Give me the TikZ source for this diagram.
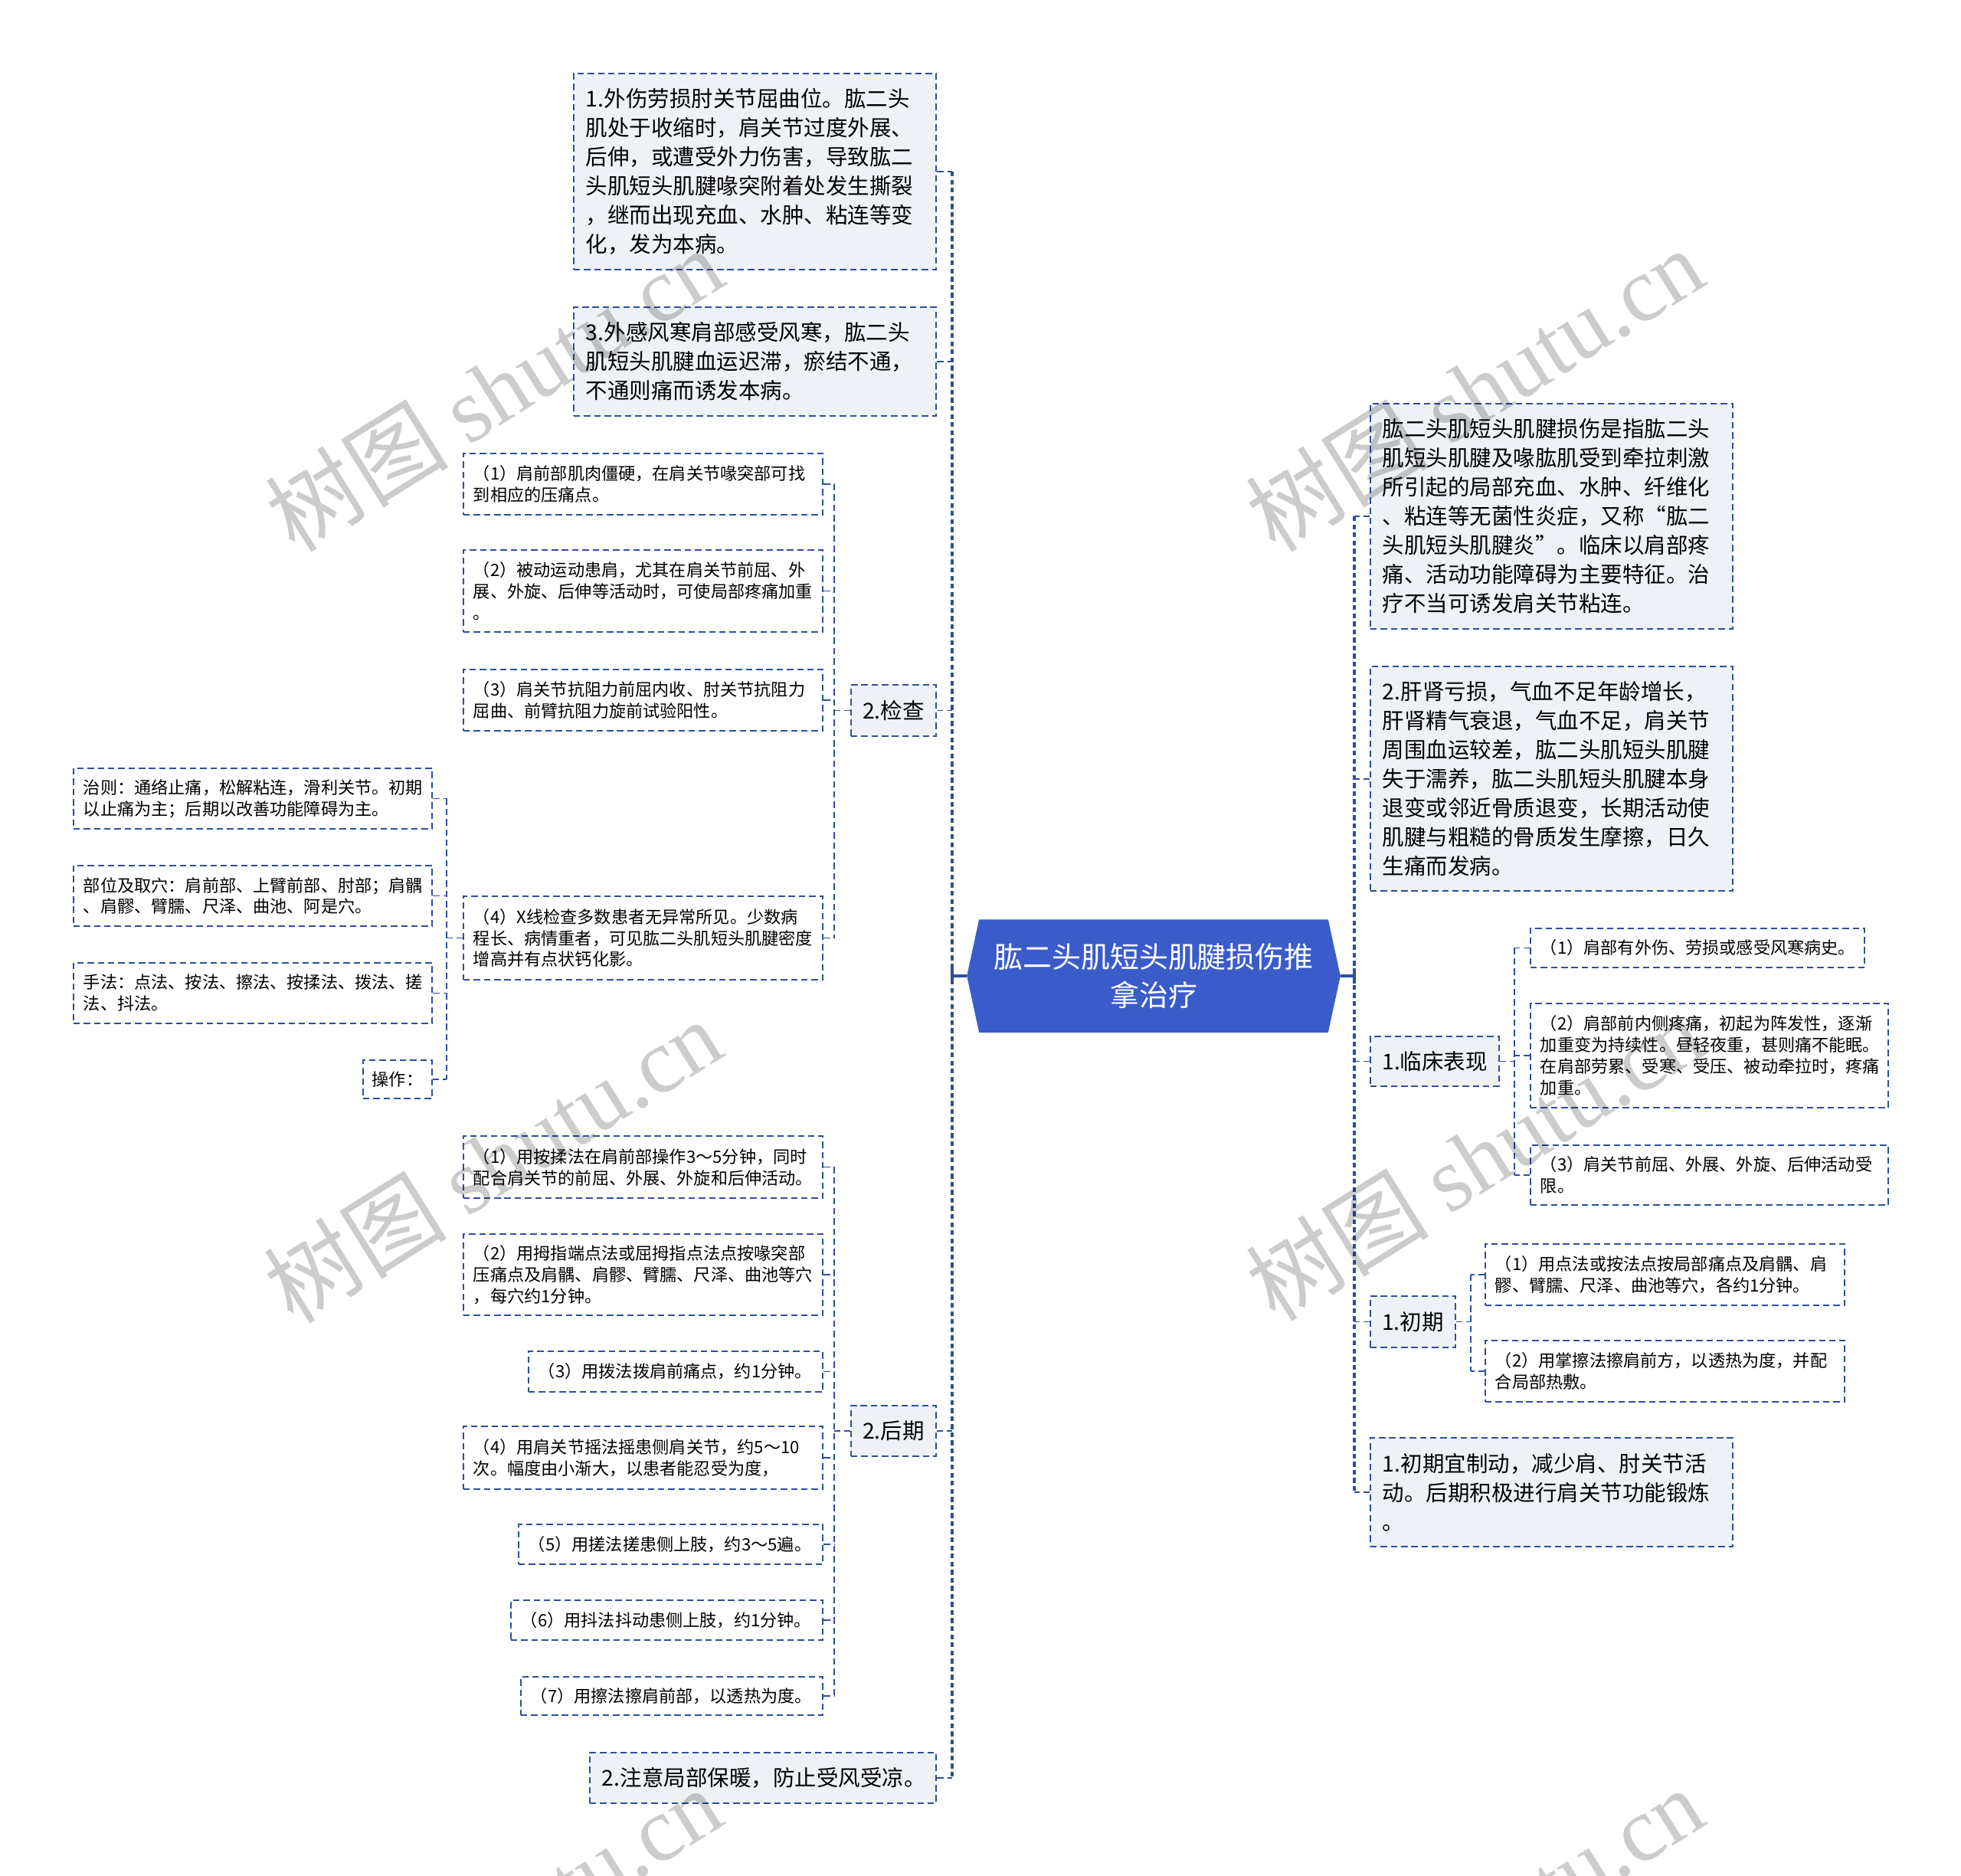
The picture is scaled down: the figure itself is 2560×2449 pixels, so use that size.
\documentclass[tikz,border=0pt]{standalone}
\usepackage{fontspec}
\setmainfont{Noto Sans CJK SC}
\newfontfamily\wmlatin{Liberation Serif}
\usetikzlibrary{backgrounds}

\definecolor{mapblue}{HTML}{2F4E9C}
\definecolor{boxfill}{HTML}{EEF1F6}
\definecolor{rootfill}{HTML}{3A5CCB}

\newcommand{\topicfont}{\fontsize{8.1pt}{10.8pt}\selectfont}
\newcommand{\leaffont}{\fontsize{6.3pt}{7.95pt}\selectfont}
\newcommand{\rootfont}{\fontsize{10.8pt}{14.3pt}\selectfont}
\newcommand{\wmarkfont}{\fontsize{34pt}{34pt}\selectfont}

\begin{document}
\begin{tikzpicture}[x=0.01cm, y=-0.01cm,
    topic/.style={draw=mapblue, fill=boxfill, line width=0.55pt, dash pattern=on 2.4pt off 1.4pt,
                  anchor=north west, inner xsep=0.16cm, inner ysep=0pt, align=left, font=\topicfont},
    tag/.style={topic, align=center, inner xsep=0pt},
    leaf/.style={draw=mapblue, fill=white, line width=0.55pt, dash pattern=on 2.4pt off 1.4pt,
                 anchor=north west, inner xsep=0.13cm, inner ysep=0pt, align=left, font=\leaffont},
    link/.style={draw=mapblue, line width=0.55pt, dash pattern=on 2.4pt off 1.4pt},
    trunk/.style={draw=mapblue, line width=0.9pt, dash pattern=on 1.8pt off 1.2pt},
    hub/.style={draw=mapblue, line width=1.1pt},
    wm/.style={text=black, opacity=0.2, rotate=32, font=\wmarkfont, inner sep=0pt}]

    % page
    \begin{pgfonlayer}{background}
        \fill[white] (0,0) rectangle (2560,2449);
    \end{pgfonlayer}
    \useasboundingbox (0,0) rectangle (2560,2449);

    % Central topic
    \node[text=white, align=center, font=\rootfont, minimum width=4.54cm, minimum height=1.46cm, inner sep=0pt]
        (root) at (1506,1274) {肱二头肌短头肌腱损伤推\\拿治疗};
    \begin{pgfonlayer}{background}
        \fill[rootfill] (root.north west) -- (root.north east) -- ([xshift=0.16cm]root.east)
            -- (root.south east) -- (root.south west) -- ([xshift=-0.16cm]root.west) -- cycle;
    \end{pgfonlayer}

    % Left branch
    \node[topic, text width=4.41cm, minimum height=2.56cm] (b1) at (748,95)
        {1.外伤劳损肘关节屈曲位。肱二头\\肌处于收缩时，肩关节过度外展、\\后伸，或遭受外力伤害，导致肱二\\头肌短头肌腱喙突附着处发生撕裂\\，继而出现充血、水肿、粘连等变\\化，发为本病。};
    \node[topic, text width=4.41cm, minimum height=1.42cm] (b3) at (748,400)
        {3.外感风寒肩部感受风寒，肱二头\\肌短头肌腱血运迟滞，瘀结不通，\\不通则痛而诱发本病。};
    \node[tag, minimum width=1.11cm, minimum height=0.67cm] (jc) at (1110,893) {2.检查};
    \node[tag, minimum width=1.11cm, minimum height=0.66cm] (hq) at (1110,1834) {2.后期};
    \node[topic, text width=4.20cm, minimum height=0.66cm] (zy) at (769,2287) {2.注意局部保暖，防止受风受凉。};

    % 2.检查
    \node[leaf, text width=4.43cm, minimum height=0.80cm] (jc1) at (604,591)
        {（1）肩前部肌肉僵硬，在肩关节喙突部可找\\到相应的压痛点。};
    \node[leaf, text width=4.43cm, minimum height=1.07cm] (jc2) at (604,717)
        {（2）被动运动患肩，尤其在肩关节前屈、外\\展、外旋、后伸等活动时，可使局部疼痛加重\\。};
    \node[leaf, text width=4.43cm, minimum height=0.80cm] (jc3) at (604,873)
        {（3）肩关节抗阻力前屈内收、肘关节抗阻力\\屈曲、前臂抗阻力旋前试验阳性。};
    \node[leaf, text width=4.43cm, minimum height=1.09cm] (jc4) at (604,1169)
        {（4）X线检查多数患者无异常所见。少数病\\程长、病情重者，可见肱二头肌短头肌腱密度\\增高并有点状钙化影。};

    \node[leaf, text width=4.42cm, minimum height=0.79cm] (zz) at (95,1002)
        {治则：通络止痛，松解粘连，滑利关节。初期\\以止痛为主；后期以改善功能障碍为主。};
    \node[leaf, text width=4.42cm, minimum height=0.79cm] (bw) at (95,1129)
        {部位及取穴：肩前部、上臂前部、肘部；肩髃\\、肩髎、臂臑、尺泽、曲池、阿是穴。};
    \node[leaf, text width=4.42cm, minimum height=0.79cm] (sf) at (95,1256)
        {手法：点法、按法、擦法、按揉法、拨法、搓\\法、抖法。};
    \node[leaf, align=center, minimum width=0.90cm, minimum height=0.50cm, inner xsep=0pt] (cz) at (473,1383) {操作：};

    % 2.后期
    \node[leaf, text width=4.43cm, minimum height=0.81cm] (hq1) at (604,1482)
        {（1）用按揉法在肩前部操作3～5分钟，同时\\配合肩关节的前屈、外展、外旋和后伸活动。};
    \node[leaf, text width=4.43cm, minimum height=1.06cm] (hq2) at (604,1610)
        {（2）用拇指端点法或屈拇指点法点按喙突部\\压痛点及肩髃、肩髎、臂臑、尺泽、曲池等穴\\，每穴约1分钟。};
    \node[leaf, text width=3.58cm, minimum height=0.53cm] (hq3) at (689,1763)
        {（3）用拨法拨肩前痛点，约1分钟。};
    \node[leaf, text width=4.43cm, minimum height=0.82cm] (hq4) at (604,1861)
        {（4）用肩关节摇法摇患侧肩关节，约5～10\\次。幅度由小渐大，以患者能忍受为度，};
    \node[leaf, text width=3.71cm, minimum height=0.52cm] (hq5) at (676,1989)
        {（5）用搓法搓患侧上肢，约3～5遍。};
    \node[leaf, text width=3.81cm, minimum height=0.52cm] (hq6) at (666,2088)
        {（6）用抖法抖动患侧上肢，约1分钟。};
    \node[leaf, text width=3.68cm, minimum height=0.50cm] (hq7) at (679,2188)
        {（7）用擦法擦肩前部，以透热为度。};

    % Right branch
    \node[topic, text width=4.41cm, minimum height=2.94cm] (r1) at (1788,526)
        {肱二头肌短头肌腱损伤是指肱二头\\肌短头肌腱及喙肱肌受到牵拉刺激\\所引起的局部充血、水肿、纤维化\\、粘连等无菌性炎症，又称“肱二\\头肌短头肌腱炎”。临床以肩部疼\\痛、活动功能障碍为主要特征。治\\疗不当可诱发肩关节粘连。};
    \node[topic, text width=4.41cm, minimum height=2.93cm] (r2) at (1788,869)
        {2.肝肾亏损，气血不足年龄增长，\\肝肾精气衰退，气血不足，肩关节\\周围血运较差，肱二头肌短头肌腱\\失于濡养，肱二头肌短头肌腱本身\\退变或邻近骨质退变，长期活动使\\肌腱与粗糙的骨质发生摩擦，日久\\生痛而发病。};
    \node[tag, minimum width=1.68cm, minimum height=0.65cm] (lc) at (1788,1352) {1.临床表现};
    \node[tag, minimum width=1.11cm, minimum height=0.67cm] (cq) at (1788,1691) {1.初期};
    \node[topic, text width=4.41cm, minimum height=1.42cm] (zd) at (1788,1876)
        {1.初期宜制动，减少肩、肘关节活\\动。后期积极进行肩关节功能锻炼\\。};

    % 1.临床表现
    \node[leaf, text width=4.10cm, minimum height=0.51cm] (lc1) at (1997,1211)
        {（1）肩部有外伤、劳损或感受风寒病史。};
    \node[leaf, text width=4.41cm, minimum height=1.36cm] (lc2) at (1997,1309)
        {（2）肩部前内侧疼痛，初起为阵发性，逐渐\\加重变为持续性。昼轻夜重，甚则痛不能眠。\\在肩部劳累、受寒、受压、被动牵拉时，疼痛\\加重。};
    \node[leaf, text width=4.41cm, minimum height=0.78cm] (lc3) at (1997,1494)
        {（3）肩关节前屈、外展、外旋、后伸活动受\\限。};

    % 1.初期
    \node[leaf, text width=4.43cm, minimum height=0.80cm] (cq1) at (1938,1623)
        {（1）用点法或按法点按局部痛点及肩髃、肩\\髎、臂臑、尺泽、曲池等穴，各约1分钟。};
    \node[leaf, text width=4.43cm, minimum height=0.80cm] (cq2) at (1938,1749)
        {（2）用掌擦法擦肩前方，以透热为度，并配\\合局部热敷。};

    % trunk lines
    \coordinate (lx) at (1243,0);
    \coordinate (rx) at (1768,0);
    \coordinate (jcx) at (1089,0);
    \coordinate (hqx) at (1089,0);
    \coordinate (opx) at (583,0);
    \coordinate (lcx) at (1977,0);
    \coordinate (cqx) at (1920,0);

    \draw[hub] ([xshift=-0.16cm]root.west) -- (root.west -| lx);
    \draw[hub] (root.west -| lx) ++(0,-10) -- ++(0,20);
    \draw[trunk] (b1.east -| lx) -- (zy.east -| lx);
    \foreach \n in {b1,b3,jc,hq,zy}
        \draw[link] (\n.east) -- (\n.east -| lx);

    \draw[hub] ([xshift=0.16cm]root.east) -- (root.east -| rx);
    \draw[hub] (root.east -| rx) ++(0,-10) -- ++(0,20);
    \draw[trunk] (r1.west -| rx) -- (zd.west -| rx);
    \foreach \n in {r1,r2,lc,cq,zd}
        \draw[link] (\n.west) -- (\n.west -| rx);

    \draw[link] (jc.west) -- (jc.west -| jcx);
    \draw[link] (jc1.east -| jcx) -- (jc4.east -| jcx);
    \foreach \n in {jc1,jc2,jc3,jc4}
        \draw[link] (\n.east) -- (\n.east -| jcx);

    \draw[link] (jc4.west) -- (jc4.west -| opx);
    \draw[link] (zz.east -| opx) -- (cz.east -| opx);
    \foreach \n in {zz,bw,sf,cz}
        \draw[link] (\n.east) -- (\n.east -| opx);

    \draw[link] (hq.west) -- (hq.west -| hqx);
    \draw[link] (hq1.east -| hqx) -- (hq7.east -| hqx);
    \foreach \n in {hq1,hq2,hq3,hq4,hq5,hq6,hq7}
        \draw[link] (\n.east) -- (\n.east -| hqx);

    \draw[link] (lc.east) -- (lc.east -| lcx);
    \draw[link] (lc1.west -| lcx) -- (lc3.west -| lcx);
    \foreach \n in {lc1,lc2,lc3}
        \draw[link] (\n.west) -- (\n.west -| lcx);

    \draw[link] (cq.east) -- (cq.east -| cqx);
    \draw[link] (cq1.west -| cqx) -- (cq2.west -| cqx);
    \foreach \n in {cq1,cq2}
        \draw[link] (\n.west) -- (\n.west -| cqx);

    % watermark
    \foreach \i/\x/\y in {1/645/508, 2/1925/508, 3/643/1515, 4/1925/1512, 5/643/2518, 6/1925/2518}
        \node[wm] (wm\i) at (\x,\y) {树图 {\wmlatin shutu.cn}};
\end{tikzpicture}
\end{document}
